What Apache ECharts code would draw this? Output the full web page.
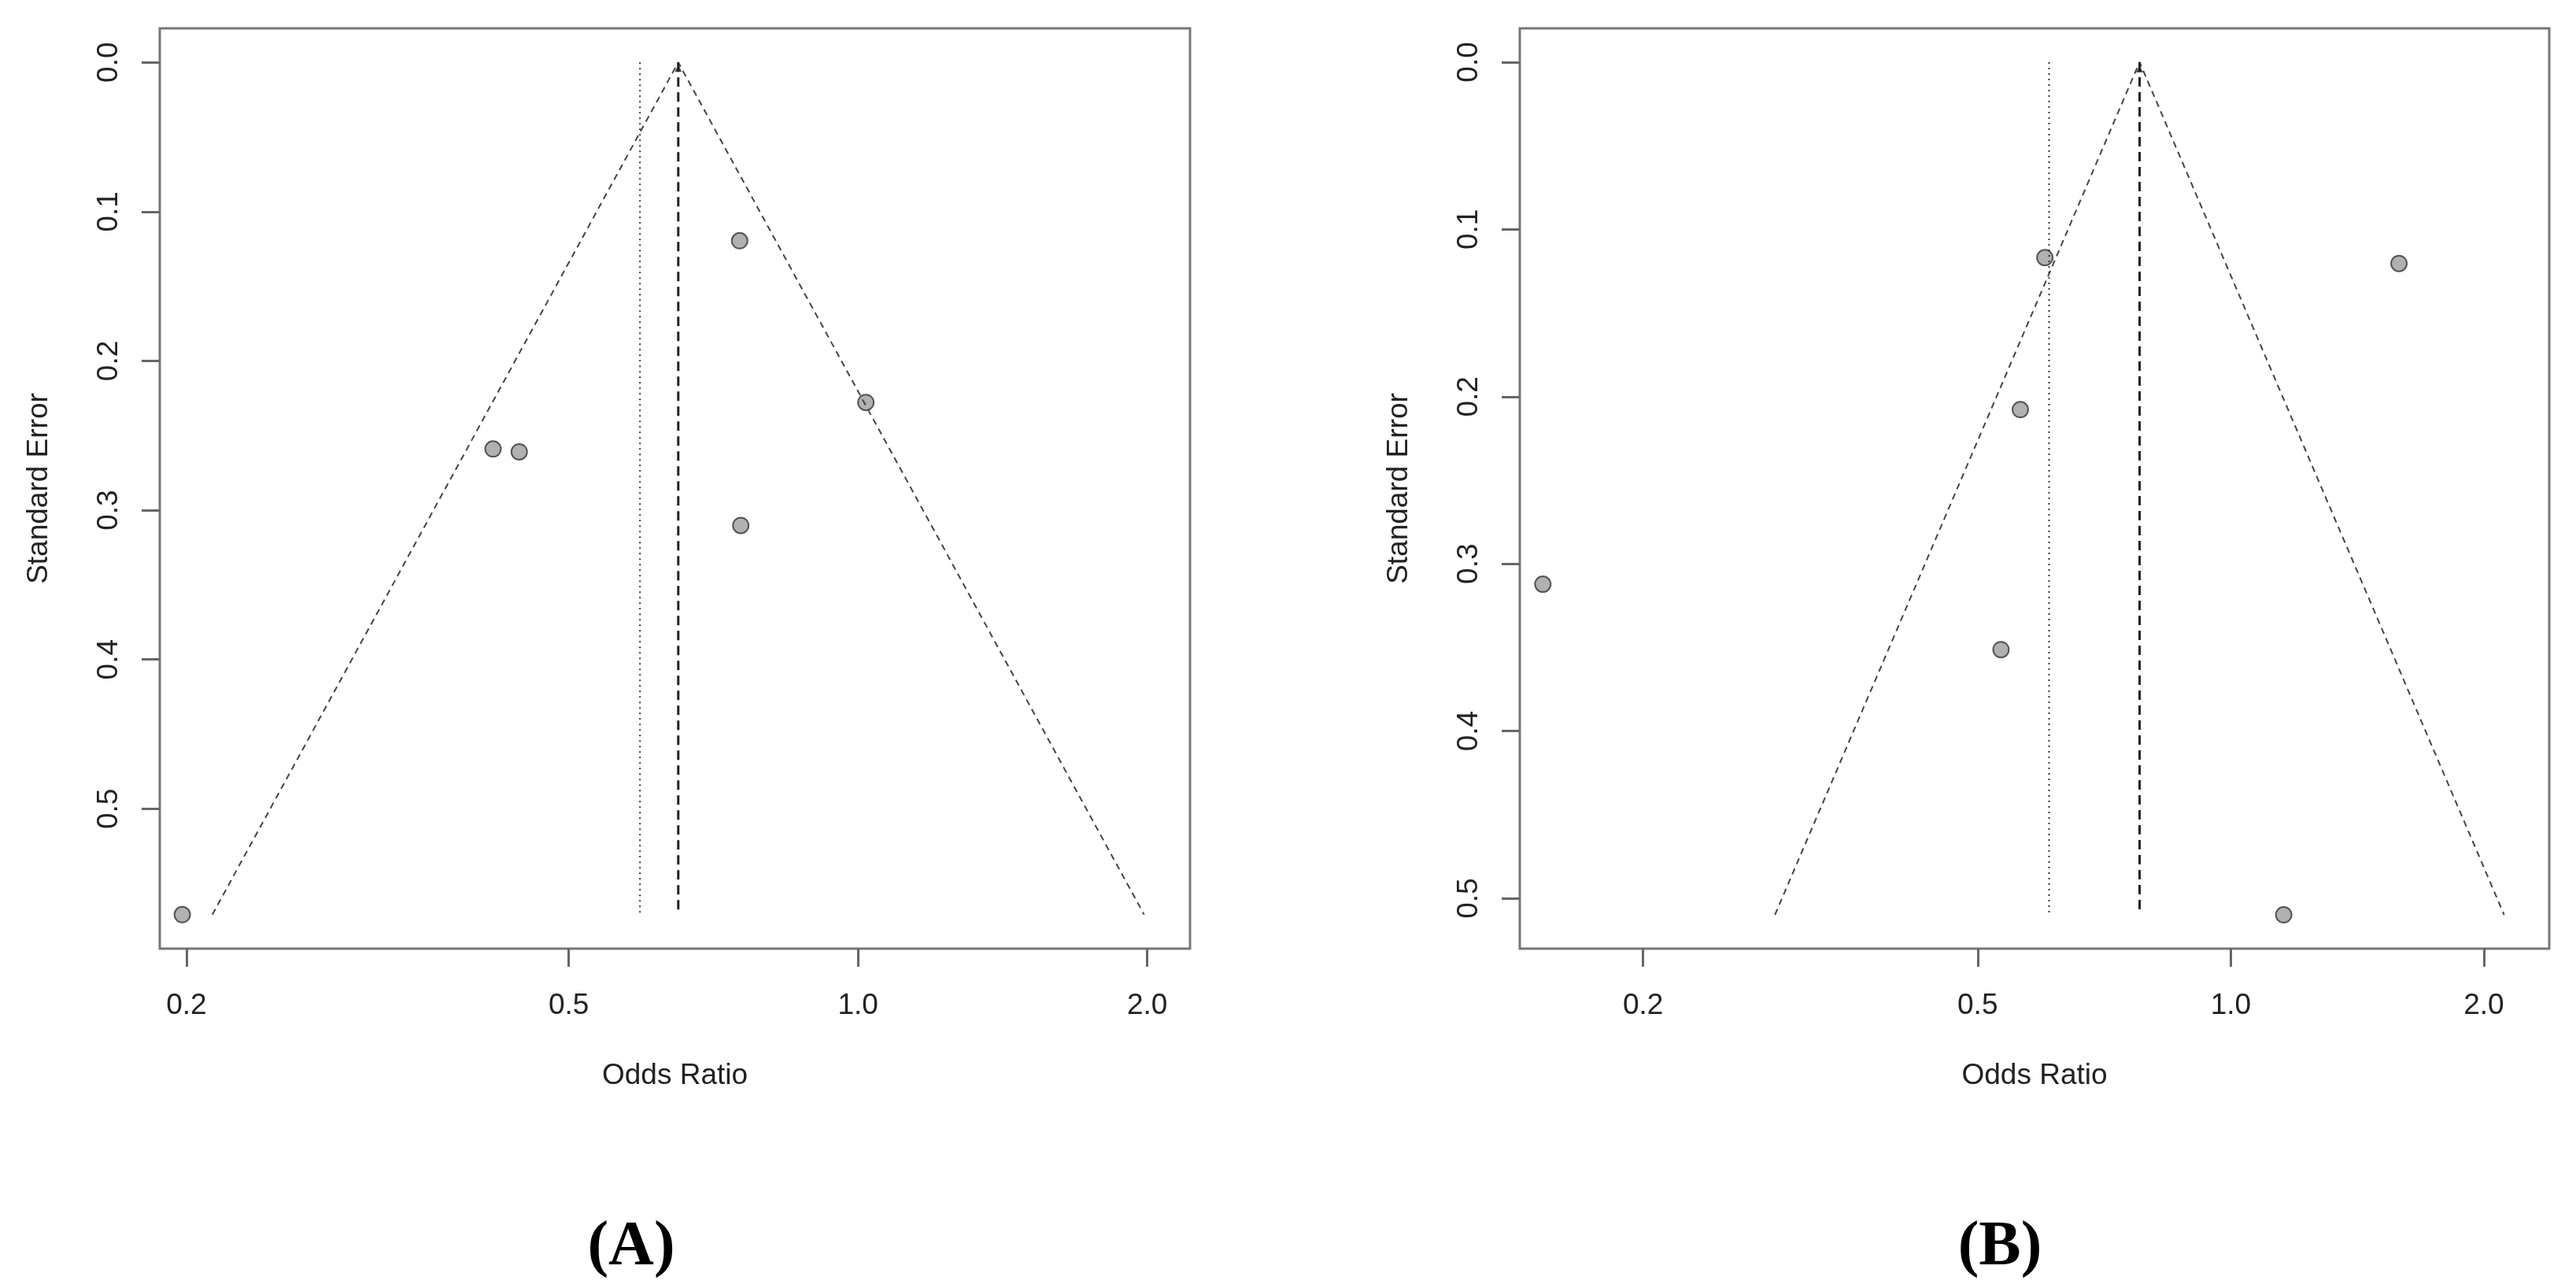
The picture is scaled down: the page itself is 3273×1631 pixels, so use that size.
<!DOCTYPE html>
<html>
<head>
<meta charset="utf-8">
<script src="https://cdn.jsdelivr.net/npm/echarts@6/dist/echarts.min.js"></script>
<style>
html,body{margin:0;padding:0;background:#fff;}
#chart{width:3273px;height:1631px;}
</style>
</head>
<body>
<div id="chart"></div>
<script>
// ---- Data ----
// Panel A
const orA = [0.753, 1.019, 0.417, 0.444, 0.755, 0.198];
const seA = [0.1195, 0.2278, 0.2590, 0.2609, 0.3102, 0.5709];
const estA = 0.650;          // pooled estimate (dashed vertical, funnel apex)
const dottedA = 0.593;       // dotted vertical reference
const maxSeA = 0.5709;
const funnelEndsA = [0.2128, 1.985];
const xLimA = [0.1876, 2.216];
const yLimA = [-0.0228, 0.5937];
// Panel B
const orB = [0.601, 1.585, 0.562, 0.152, 0.533, 1.156];
const seB = [0.1169, 0.1204, 0.2078, 0.3122, 0.3513, 0.5099];
const estB = 0.779;
const dottedB = 0.608;
const maxSeB = 0.5099;
const funnelEndsB = [0.287, 2.114];
const xLimB = [0.1427, 2.392];
const yLimB = [-0.0202, 0.5301];
// Axis ticks
const xTicks = [0.2, 0.5, 1.0, 2.0];
const yTicks = [0, 0.1, 0.2, 0.3, 0.4, 0.5];
const panelLabels = ['(A)', '(B)'];
const xTitle = 'Odds Ratio';
const yTitle = 'Standard Error';

// ---- Build chart ----
const FONT = '"Liberation Sans", Arial, Helvetica, sans-serif';
const TXT = '#222';
const L = Math.log;

function xAxisFor(idx, lim) {
  return {
    type: 'value', gridIndex: idx, min: L(lim[0]), max: L(lim[1]), position: 'bottom',
    axisLine: {show: false, onZero: false},
    splitLine: {show: false},
    axisTick: {show: true, length: 23, customValues: xTicks.map(L), lineStyle: {color: '#666', width: 3}},
    axisLabel: {show: true, customValues: xTicks.map(L), margin: 54, fontSize: 37, fontFamily: FONT, color: TXT,
      formatter: v => Math.exp(v).toFixed(1)},
    name: xTitle, nameLocation: 'middle', nameGap: 143,
    nameTextStyle: {fontSize: 37, fontFamily: FONT, color: TXT}
  };
}
function yAxisFor(idx, lim) {
  return {
    type: 'value', gridIndex: idx, min: lim[0], max: lim[1], inverse: true, position: 'left',
    axisLine: {show: false, onZero: false},
    splitLine: {show: false},
    axisTick: {show: true, length: 23, customValues: yTicks, lineStyle: {color: '#666', width: 3}},
    axisLabel: {show: true, customValues: yTicks, rotate: 90, margin: 46, fontSize: 37, fontFamily: FONT, color: TXT,
      formatter: v => v.toFixed(1)},
    name: yTitle, nameLocation: 'middle', nameGap: 135, nameRotate: 90,
    nameTextStyle: {fontSize: 37, fontFamily: FONT, color: TXT}
  };
}
function seriesFor(idx, ors, ses, est, dotted, maxSe, ends) {
  return [
    { type: 'line', xAxisIndex: idx, yAxisIndex: idx, symbol: 'none', silent: true,
      data: [[L(ends[0]), maxSe], [L(est), 0], [L(ends[1]), maxSe]],
      lineStyle: {color: '#444', width: 2, type: [8, 6]} },
    { type: 'line', xAxisIndex: idx, yAxisIndex: idx, symbol: 'none', silent: true,
      data: [[L(est), 0], [L(est), maxSe]],
      lineStyle: {color: '#222', width: 3, type: [12, 7]} },
    { type: 'line', xAxisIndex: idx, yAxisIndex: idx, symbol: 'none', silent: true,
      data: [[L(dotted), 0], [L(dotted), maxSe]],
      lineStyle: {color: '#333', width: 2, type: [2, 5]} },
    { type: 'scatter', xAxisIndex: idx, yAxisIndex: idx, symbol: 'triangle', symbolSize: [9, 9],
      data: [[L(est), 0.004]], itemStyle: {color: '#222'}, silent: true },
    { type: 'scatter', xAxisIndex: idx, yAxisIndex: idx, symbol: 'circle', symbolSize: 20,
      data: ors.map((o, i) => [L(o), ses[i]]),
      itemStyle: {color: '#9e9e9e', borderColor: '#333', borderWidth: 2} }
  ];
}

const chart = echarts.init(document.getElementById('chart'), null, {renderer: 'canvas'});
chart.setOption({
  animation: false,
  backgroundColor: '#fff',
  grid: [
    {left: 203, top: 36, width: 1309, height: 1169, show: true, borderColor: '#777', borderWidth: 3, backgroundColor: 'transparent'},
    {left: 1931, top: 36, width: 1308, height: 1169, show: true, borderColor: '#777', borderWidth: 3, backgroundColor: 'transparent'}
  ],
  xAxis: [xAxisFor(0, xLimA), xAxisFor(1, xLimB)],
  yAxis: [yAxisFor(0, yLimA), yAxisFor(1, yLimB)],
  series: [].concat(
    seriesFor(0, orA, seA, estA, dottedA, maxSeA, funnelEndsA),
    seriesFor(1, orB, seB, estB, dottedB, maxSeB, funnelEndsB)
  ),
  graphic: [
    {type: 'text', x: 802, y: 1585, style: {text: panelLabels[0], font: 'bold 80px "Liberation Serif", "Times New Roman", serif', fill: '#000', align: 'center', verticalAlign: 'middle'}},
    {type: 'text', x: 2541, y: 1585, style: {text: panelLabels[1], font: 'bold 80px "Liberation Serif", "Times New Roman", serif', fill: '#000', align: 'center', verticalAlign: 'middle'}}
  ]
});
</script>
</body>
</html>
